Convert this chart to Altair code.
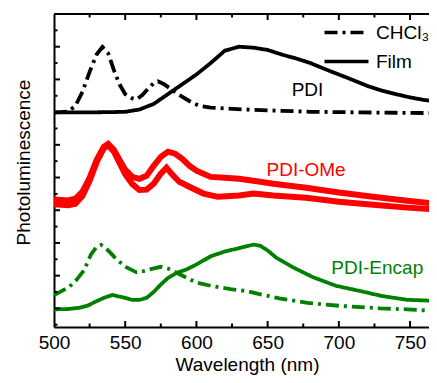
import altair as alt
import pandas as pd

FONT = "Liberation Sans"

# ---- PDI (black) ----
pdi_film_wl = [500, 520, 540, 550, 560, 570, 580, 590, 600, 610, 620, 630, 640, 650, 660, 670, 680, 690, 700, 710, 720, 730, 740, 750, 760, 769]
pdi_film_pl = [5.99, 5.99, 6.00, 6.01, 6.08, 6.25, 6.55, 6.85, 7.15, 7.50, 7.88, 8.00, 7.97, 7.90, 7.76, 7.64, 7.50, 7.32, 7.15, 6.98, 6.80, 6.66, 6.55, 6.45, 6.37, 6.33]
pdi_sol_wl = [500, 505, 510, 515, 520, 525, 530, 534, 538, 542, 546, 550, 555, 558, 562, 566, 570, 573, 577, 582, 588, 595, 602, 610, 620, 640, 660, 680, 700, 740, 769]
pdi_sol_pl = [5.99, 6.00, 6.02, 6.19, 6.62, 7.23, 7.77, 7.99, 7.80, 7.29, 6.85, 6.55, 6.42, 6.39, 6.52, 6.71, 6.89, 6.94, 6.86, 6.71, 6.52, 6.34, 6.19, 6.14, 6.11, 6.07, 6.04, 6.01, 6.00, 5.98, 5.97]

# ---- PDI-OMe (red) ----
ome_a_wl = [500, 510, 515, 520, 525, 530, 535, 538, 542, 546, 550, 555, 560, 565, 570, 575, 580, 585, 590, 595, 600, 610, 620, 630, 640, 654, 677, 700, 724, 748, 769]
ome_a_pl = [3.33, 3.30, 3.35, 3.57, 3.99, 4.54, 4.94, 5.03, 4.85, 4.54, 4.24, 4.02, 3.96, 4.05, 4.36, 4.63, 4.79, 4.73, 4.57, 4.36, 4.21, 4.02, 3.99, 3.96, 3.90, 3.81, 3.69, 3.54, 3.41, 3.29, 3.20]
ome_b_wl = [500, 510, 515, 520, 525, 530, 535, 538, 542, 546, 550, 555, 560, 565, 570, 575, 579, 583, 588, 595, 605, 615, 630, 640, 654, 677, 700, 724, 748, 769]
ome_b_pl = [3.18, 3.15, 3.20, 3.44, 3.90, 4.48, 4.90, 4.98, 4.80, 4.45, 4.10, 3.80, 3.62, 3.63, 3.81, 4.12, 4.30, 4.09, 3.87, 3.72, 3.51, 3.41, 3.45, 3.51, 3.45, 3.38, 3.26, 3.17, 3.08, 3.02]

# ---- PDI-Encap (green) ----
enc_film_wl = [500, 510, 518, 524, 528, 535, 541, 548, 555, 560, 565, 570, 575, 580, 586, 593, 600, 610, 620, 630, 640, 645, 650, 656, 668, 682, 698, 715, 730, 748, 769]
enc_film_pl = [-0.03, -0.02, 0.02, 0.09, 0.18, 0.32, 0.41, 0.34, 0.26, 0.26, 0.32, 0.50, 0.73, 0.93, 1.08, 1.19, 1.34, 1.59, 1.74, 1.84, 1.95, 1.91, 1.77, 1.55, 1.25, 0.95, 0.69, 0.53, 0.38, 0.26, 0.23]
enc_sol_wl = [500, 505, 511, 516, 521, 526, 530, 533, 536, 540, 544, 551, 558, 563, 568, 575, 580, 585, 591, 600, 612, 624, 635, 645, 659, 678, 700, 729, 748, 766]
enc_sol_pl = [0.41, 0.52, 0.67, 0.88, 1.16, 1.65, 1.89, 1.94, 1.86, 1.68, 1.49, 1.25, 1.10, 1.14, 1.20, 1.27, 1.22, 1.11, 0.98, 0.79, 0.67, 0.59, 0.53, 0.43, 0.30, 0.17, 0.08, 0.00, -0.03, -0.08]

compounds = ["PDI", "PDI-OMe", "PDI-Encap"]
compound_colors = ["#000000", "#ff0000", "#008000"]
media = ["CHCl\u2083", "Film"]

label_wl = [678, 677, 727]
label_pl = [6.68, 4.24, 1.22]

x_major = [500, 550, 600, 650, 700, 750]
x_minor = [525, 575, 625, 675, 725, 775]
y_major = [0, 1, 2, 3, 4, 5, 6, 7, 8]
y_minor = [-0.5, 0.5, 1.5, 2.5, 3.5, 4.5, 5.5, 6.5, 7.5, 8.5]

W, H = 375, 313


def frame(wl, pl, compound, medium, series):
    return pd.DataFrame({"wl": wl, "pl": pl, "compound": compound, "medium": medium, "series": series})


df_main = pd.concat([
    frame(pdi_film_wl, pdi_film_pl, "PDI", "Film", "pdi_film"),
    frame(pdi_sol_wl, pdi_sol_pl, "PDI", media[0], "pdi_sol"),
    frame(enc_film_wl, enc_film_pl, "PDI-Encap", "Film", "enc_film"),
    frame(enc_sol_wl, enc_sol_pl, "PDI-Encap", media[0], "enc_sol"),
])
df_red = pd.concat([
    frame(ome_a_wl, ome_a_pl, "PDI-OMe", "Film", "ome_a"),
    frame(ome_b_wl, ome_b_pl, "PDI-OMe", media[0], "ome_b"),
])
df_labels = pd.DataFrame({"wl": label_wl, "pl": label_pl, "compound": compounds})

xs = alt.Scale(domain=[500, 763.3], nice=False, zero=False)
ys = alt.Scale(domain=[-0.57, 9.0], nice=False, zero=False)
cs = alt.Scale(domain=compounds, range=compound_colors)

x_enc = alt.X("wl:Q", scale=xs, axis=alt.Axis(
    values=x_major, title="Wavelength (nm)", ticks=False, tickSize=0, grid=False,
    labelFontSize=19, labelFont=FONT, labelColor="black", labelFlush=False,
    labelPadding=21, labelBaseline="alphabetic",
    domainColor="black", domainWidth=2,
    titleFontSize=19, titleFont=FONT, titleFontWeight="normal", titleColor="black",
    titleX=193, titleY=43, titleBaseline="alphabetic"))
y_enc = alt.Y("pl:Q", scale=ys, axis=alt.Axis(
    title="Photoluminescence", labels=False, ticks=False, tickSize=0, grid=False,
    domainColor="black", domainWidth=2,
    titleFontSize=19, titleFont=FONT, titleFontWeight="normal", titleColor="black",
    titleAngle=270, titleX=-25, titleY=148, titleBaseline="alphabetic"))

main = alt.Chart(df_main).mark_line(strokeWidth=3.8, clip=True).encode(
    x=x_enc, y=y_enc,
    color=alt.Color("compound:N", scale=cs, legend=None),
    strokeDash=alt.StrokeDash("medium:N", scale=alt.Scale(domain=media, range=[[13, 5, 3, 5], [1, 0]]),
                              legend=alt.Legend(title=None, orient="none", legendX=283, legendY=9,
                                                padding=0, symbolType="M-4.4,0H4.4", symbolSize=100,
                                                symbolStrokeWidth=3.7, symbolStrokeColor="black",
                                                symbolFillColor="transparent", labelFontSize=19,
                                                labelFont=FONT, labelColor="black", labelOffset=20,
                                                rowPadding=9, labelLimit=0)),
    detail="series:N",
)

red = alt.Chart(df_red).mark_line(strokeWidth=6, clip=True).encode(
    x=x_enc, y=y_enc,
    color=alt.Color("compound:N", scale=cs, legend=None),
    detail="series:N",
)

labels = alt.Chart(df_labels).mark_text(fontSize=19, font=FONT, align="center", baseline="middle").encode(
    x=alt.X("wl:Q", scale=xs), y=alt.Y("pl:Q", scale=ys),
    text="compound:N",
    color=alt.Color("compound:N", scale=cs, legend=None),
)

tick_style = dict(color="black", strokeWidth=2, clip=True)
xmaj = pd.DataFrame({"wl": x_major})
xmin = pd.DataFrame({"wl": x_minor})
ymaj = pd.DataFrame({"pl": y_major})
ymin = pd.DataFrame({"pl": y_minor})

ticks = [
    alt.Chart(xmaj).mark_rule(**tick_style).encode(x=alt.X("wl:Q", scale=xs), y=alt.value(H), y2=alt.value(H - 6)),
    alt.Chart(xmin).mark_rule(**tick_style).encode(x=alt.X("wl:Q", scale=xs), y=alt.value(H), y2=alt.value(H - 3.5)),
    alt.Chart(xmaj).mark_rule(**tick_style).encode(x=alt.X("wl:Q", scale=xs), y=alt.value(0), y2=alt.value(6)),
    alt.Chart(xmin).mark_rule(**tick_style).encode(x=alt.X("wl:Q", scale=xs), y=alt.value(0), y2=alt.value(3.5)),
    alt.Chart(ymaj).mark_rule(**tick_style).encode(y=alt.Y("pl:Q", scale=ys), x=alt.value(0), x2=alt.value(6)),
    alt.Chart(ymin).mark_rule(**tick_style).encode(y=alt.Y("pl:Q", scale=ys), x=alt.value(0), x2=alt.value(3.5)),
    alt.Chart(xmaj).mark_rule(color="black", strokeWidth=2).encode(x=alt.value(0), x2=alt.value(W), y=alt.value(0)),
]

chart = alt.layer(main, red, labels, *ticks).properties(
    width=W, height=H,
    autosize=alt.AutoSizeParams(type="none"),
    padding={"left": 46, "top": 6, "right": 0, "bottom": 48},
).configure_view(stroke=None).configure(background="white")

chart.save("out.html", embed_options={"renderer": "svg", "actions": False})
